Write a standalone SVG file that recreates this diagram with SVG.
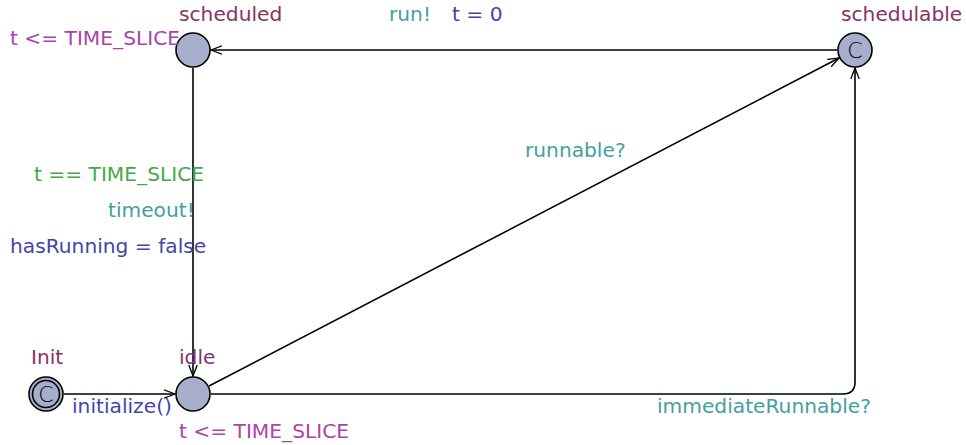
<svg xmlns="http://www.w3.org/2000/svg" width="966" height="445" viewBox="0 0 966 445">
<defs>
<marker id="arr" viewBox="0 0 12 10" refX="11" refY="5" markerWidth="12" markerHeight="10" markerUnits="userSpaceOnUse" orient="auto">
<path d="M0,0.8 L11,5 L0,9.2" fill="none" stroke="#000" stroke-width="1.3"/>
</marker>
</defs>
<style>
text{font-family:"DejaVu Sans",sans-serif;font-size:20.2px}
.loc{fill:#a6aecc;stroke:#000;stroke-width:1.6}
.name{fill:#883366}
.inv{fill:#aa44aa}
.sync{fill:#44a0a0}
.upd{fill:#4444aa}
.grd{fill:#44aa44}
.edge{fill:none;stroke:#000;stroke-width:1.6}
.c{fill:#000;font-size:22px;font-weight:300}
</style>
<g id="connectors">
<path class="edge" d="M837,50 L211,50" marker-end="url(#arr)"/>
<path class="edge" d="M193,68 L193,376" marker-end="url(#arr)"/>
<path class="edge" d="M64,394 L175,394" marker-end="url(#arr)"/>
<path class="edge" d="M209,386 L839,58" marker-end="url(#arr)"/>
<path class="edge" d="M211,394 L843,394 Q855,394 855,382 L855,68" marker-end="url(#arr)"/>
</g>
<g id="edge-labels">
<text class="sync" x="389" y="21">run!</text>
<text class="upd" x="452" y="21">t = 0</text>
<text class="sync" x="525" y="157">runnable?</text>
<text class="grd" x="34" y="181">t == TIME_SLICE</text>
<text class="sync" x="108" y="217">timeout!</text>
<text class="upd" x="10" y="253">hasRunning = false</text>
<text class="upd" x="72" y="413">initialize()</text>
<text class="sync" x="657" y="413">immediateRunnable?</text>
</g>
<g id="scheduled">
<circle class="loc" cx="193" cy="50" r="17"/>
<text class="name" x="179" y="21">scheduled</text>
<text class="inv" x="10" y="45">t &lt;= TIME_SLICE</text>
</g>
<g id="schedulable">
<circle class="loc" cx="855" cy="50" r="17"/>
<text class="c" x="855" y="58" text-anchor="middle">C</text>
<text class="name" x="841" y="21">schedulable</text>
</g>
<g id="Init">
<circle class="loc" cx="46" cy="394" r="17"/>
<circle cx="46" cy="394" r="13.5" fill="none" stroke="#000" stroke-width="1.6"/>
<text class="c" x="46" y="402" text-anchor="middle">C</text>
<text class="name" x="31" y="364">Init</text>
</g>
<g id="idle">
<circle class="loc" cx="193" cy="394" r="17"/>
<text class="name" x="179" y="364">idle</text>
<text class="inv" x="179" y="438">t &lt;= TIME_SLICE</text>
</g>
</svg>
